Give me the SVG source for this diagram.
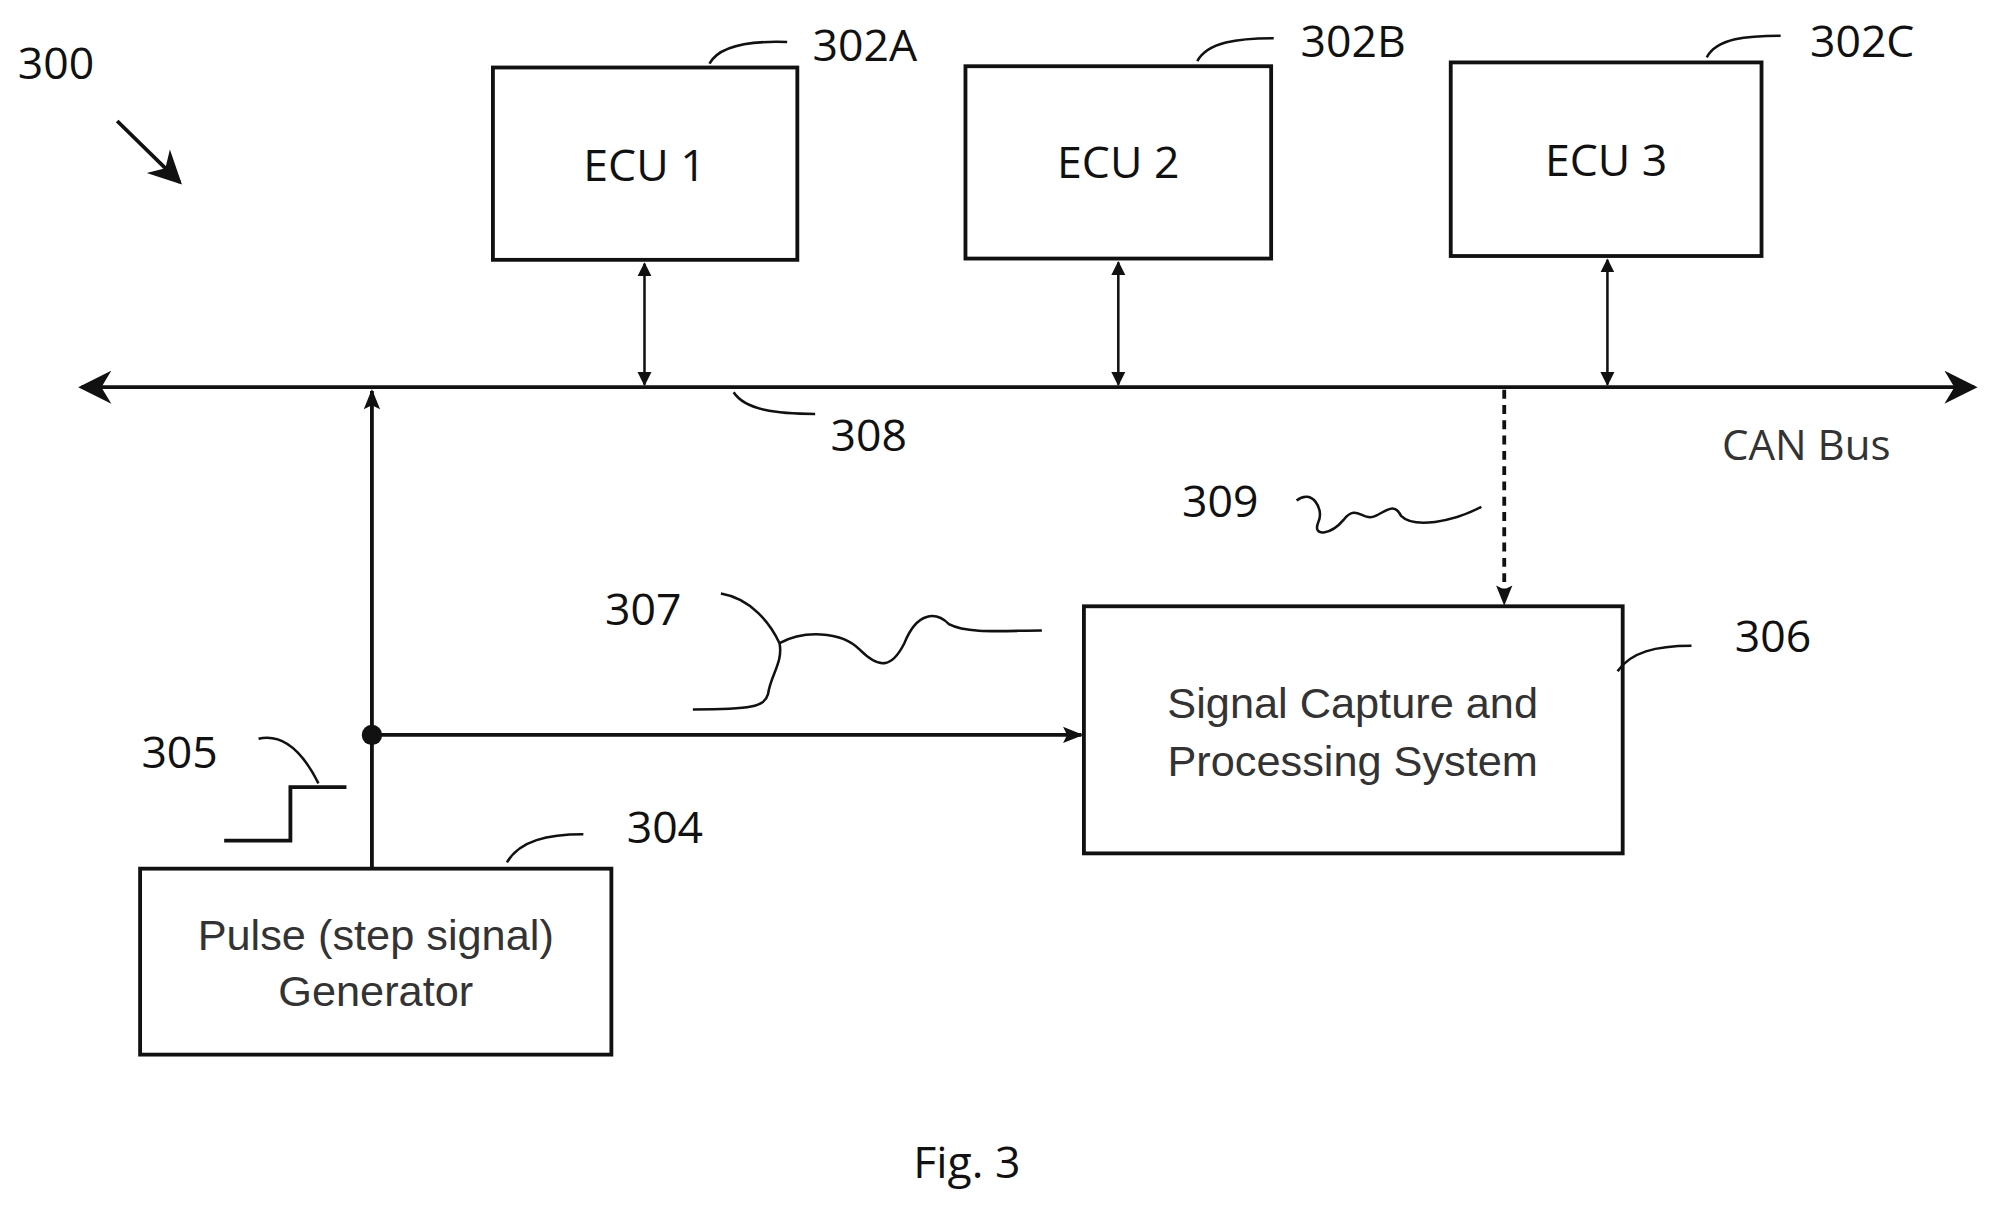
<svg xmlns="http://www.w3.org/2000/svg" width="1996" height="1210" viewBox="0 0 1996 1210">
<defs>
<marker id="ah" viewBox="0 0 10 10" refX="9" refY="5" markerWidth="11" markerHeight="12" markerUnits="userSpaceOnUse" orient="auto-start-reverse"><path d="M0,0 L10,5 L0,10 Z" fill="#111"/></marker>
<marker id="big" viewBox="0 0 10 10" refX="9" refY="5" markerWidth="28" markerHeight="26" markerUnits="userSpaceOnUse" orient="auto-start-reverse"><path d="M0,0 L10,5 L0,10 L3,5 Z" fill="#111"/></marker>
<marker id="mid" viewBox="0 0 10 10" refX="9" refY="5" markerWidth="20" markerHeight="16" markerUnits="userSpaceOnUse" orient="auto-start-reverse"><path d="M0,1 L10,5 L0,9 L2,5 Z" fill="#111"/></marker>
</defs>
<style>
.box{fill:#fff;stroke:#111;stroke-width:3}
.lbl{font-family:"Open Sans","DejaVu Sans",sans-serif;font-size:35px;fill:#111}
.txt{font-family:"Liberation Sans",Arial,sans-serif;font-size:34px;fill:#333;text-anchor:middle}
.ln{fill:none;stroke:#111;stroke-width:2}
.th{fill:none;stroke:#111;stroke-width:3}
</style>
<rect width="1996" height="1210" fill="#fff"/>
<g transform="scale(1.2737,1.2737)">
<g id="connectors">
<line class="th" x1="64" y1="304" x2="1550" y2="304" marker-start="url(#big)" marker-end="url(#big)"/>
<line class="ln" x1="506" y1="207" x2="506" y2="302" marker-start="url(#ah)" marker-end="url(#ah)"/>
<line class="ln" x1="878" y1="206" x2="878" y2="302" marker-start="url(#ah)" marker-end="url(#ah)"/>
<line class="ln" x1="1262" y1="204" x2="1262" y2="302" marker-start="url(#ah)" marker-end="url(#ah)"/>
<line class="th" x1="292" y1="682" x2="292" y2="307" marker-end="url(#mid)"/>
<line class="th" x1="292" y1="577" x2="849" y2="577" marker-end="url(#mid)"/>
<circle cx="292" cy="577" r="8" fill="#111"/>
<line x1="1181" y1="306" x2="1181" y2="474" stroke="#111" stroke-width="3" stroke-dasharray="7,5" marker-end="url(#mid)"/>
<line class="th" x1="92" y1="95" x2="141" y2="143" marker-end="url(#big)"/>
</g>
<g id="ecu1"><rect class="box" x="387" y="53" width="239" height="151"/><text class="lbl" x="506" y="142" text-anchor="middle">ECU 1</text></g>
<g id="ecu2"><rect class="box" x="758" y="52" width="240" height="151"/><text class="lbl" x="878" y="140" text-anchor="middle">ECU 2</text></g>
<g id="ecu3"><rect class="box" x="1139" y="49" width="244" height="152"/><text class="lbl" x="1261" y="138" text-anchor="middle">ECU 3</text></g>
<g id="scps"><rect class="box" x="851" y="476" width="423" height="194"/><text class="txt" x="1062" y="564">Signal Capture and</text><text class="txt" x="1062" y="609">Processing System</text></g>
<g id="pulse"><rect class="box" x="110" y="682" width="370" height="146"/><text class="txt" x="295" y="746">Pulse (step signal)</text><text class="txt" x="295" y="790">Generator</text></g>
<g id="labels">
<text class="lbl" x="14" y="62">300</text>
<text class="lbl" x="638" y="48">302A</text><path class="ln" d="M557,50 C565,35 590,32 618,33"/>
<text class="lbl" x="1021" y="45">302B</text><path class="ln" d="M940,48 C948,33 972,30 1000,30"/>
<text class="lbl" x="1421" y="45">302C</text><path class="ln" d="M1340,45 C1348,30 1372,28 1398,28"/>
<text class="lbl" x="652" y="354">308</text><path class="ln" d="M576,308 C585,322 610,325 640,325"/>
<text class="lbl" x="1352" y="361" style="fill:#333;font-size:33px">CAN Bus</text>
<text class="lbl" x="928" y="406">309</text><path class="ln" d="M1018,393 C1030,383 1040,400 1035,410 C1030,422 1045,420 1055,408 C1065,395 1070,410 1080,405 C1090,400 1095,395 1100,405 C1110,415 1140,410 1163,398"/>
<text class="lbl" x="475" y="491">307</text><path class="ln" d="M566,466 C590,470 605,490 612,505 C615,520 605,530 603,545 C600,555 590,557 544,557 M612,505 C630,495 660,495 675,510 C690,525 700,525 710,505 C720,480 735,480 745,490 C760,498 790,495 818,495"/>
<text class="lbl" x="1362" y="512">306</text><path class="ln" d="M1270,527 C1280,512 1300,507 1328,507"/>
<text class="lbl" x="111" y="603">305</text><path class="ln" d="M203,580 C225,575 240,595 250,615"/>
<path class="th" d="M176,660 L228,660 L228,618 L272,618"/>
<text class="lbl" x="492" y="662">304</text><path class="ln" d="M398,677 C408,660 430,655 458,655"/>
<text class="lbl" x="717" y="925">Fig. 3</text>
</g>
</g>
</svg>
